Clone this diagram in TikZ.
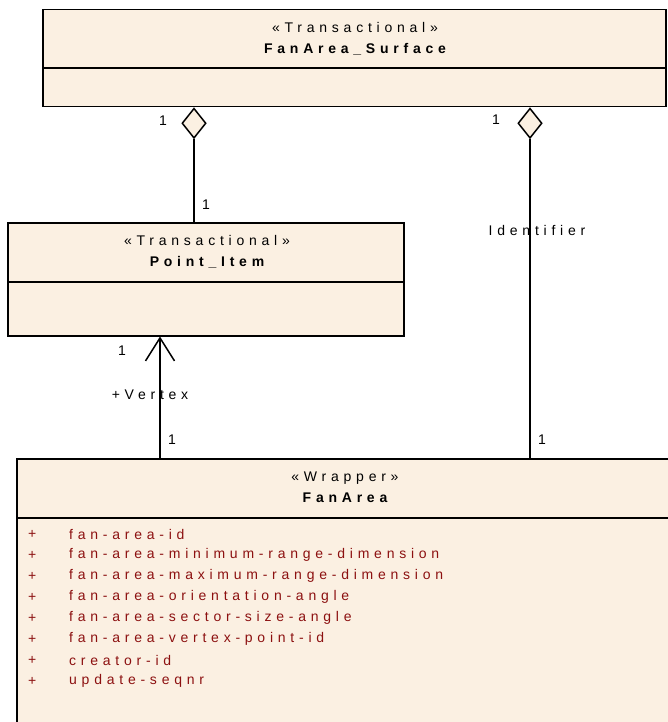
\documentclass[tikz,border=0pt]{standalone}
\usepackage{fontspec}
\setmainfont{Liberation Sans}[LetterSpace=34]
\usetikzlibrary{shapes.geometric,arrows.meta}
\definecolor{umlfill}{RGB}{251,240,226}
\definecolor{attrred}{RGB}{140,16,16}
\begin{document}
\begin{tikzpicture}[x=1pt,y=-1pt,font=\fontsize{14}{16}\selectfont,
  cls/.style={draw, line width=1.5pt, fill=umlfill, inner sep=0pt, anchor=north west},
  agg/.style={diamond, draw, line width=1.5pt, fill=umlfill, inner sep=0pt, minimum width=24pt, minimum height=30pt, anchor=north},
  conn/.style={line width=1.5pt},
  lbl/.style={inner sep=0pt},
  attr/.style={inner sep=0pt, anchor=west, text=attrred}]
\useasboundingbox (0,0) rectangle (668,722);
\clip (0,0) rectangle (668,722);
% classes
\node[cls, minimum width=623pt, minimum height=97pt] (surf) at (42,9) {};
\draw[conn] (surf.west |- 0,68) -- (surf.east |- 0,68);
\node[lbl] (surfst) at (355,27.5) {«Transactional»};
\node[lbl] (surfnm) at (355,49) {\bfseries FanArea\_Surface};

\node[cls, minimum width=396pt, minimum height=113pt] (point) at (7,222) {};
\draw[conn] (point.west |- 0,282) -- (point.east |- 0,282);
\node[lbl] (ptst) at (207,240) {«Transactional»};
\node[lbl] (ptnm) at (207,262.5) {\bfseries Point\_Item};

\node[cls, minimum width=660pt, minimum height=280pt] (fan) at (16,458) {};
\draw[conn] (fan.west |- 0,518) -- (676,518);
\node[lbl] (fanst) at (345,478) {«Wrapper»};
\node[lbl] (fannm) at (345,498) {\bfseries FanArea};

\foreach \t [count=\i] in {fan-area-id,fan-area-minimum-range-dimension,fan-area-maximum-range-dimension,fan-area-orientation-angle,fan-area-sector-size-angle,fan-area-vertex-point-id,creator-id,update-seqnr}{
  \node[attr] (p\i) at (28,513+21*\i) {+};
  \node[attr] (a\i) at (69,513+21*\i) {\t};
}

% connectors
\coordinate (c1) at (194,0);
\coordinate (c2) at (530,0);
\coordinate (c3) at (160,0);
\node[agg] (d1) at (c1 |- surf.south) {};
\node[agg] (d2) at (c2 |- surf.south) {};
\draw[conn] (d1.south) -- (d1.south |- point.north);
\draw[conn] (d2.south) -- (d2.south |- fan.north);
\draw[conn,-{Straight Barb[length=23pt,width=29pt]}] (c3 |- fan.north) -- (c3 |- point.south);

% labels
\node[lbl] (m1) at (163,121) {1};
\node[lbl] (m2) at (496,120) {1};
\node[lbl] (m3) at (206,205) {1};
\node[lbl] (m4) at (122,351) {1};
\node[lbl] (m5) at (172,440) {1};
\node[lbl] (m6) at (542,440) {1};
\node[lbl] (idl) at (537,230) {Identifier};
\node[lbl] (vtx) at (150,395) {+Vertex};
\end{tikzpicture}
\end{document}
